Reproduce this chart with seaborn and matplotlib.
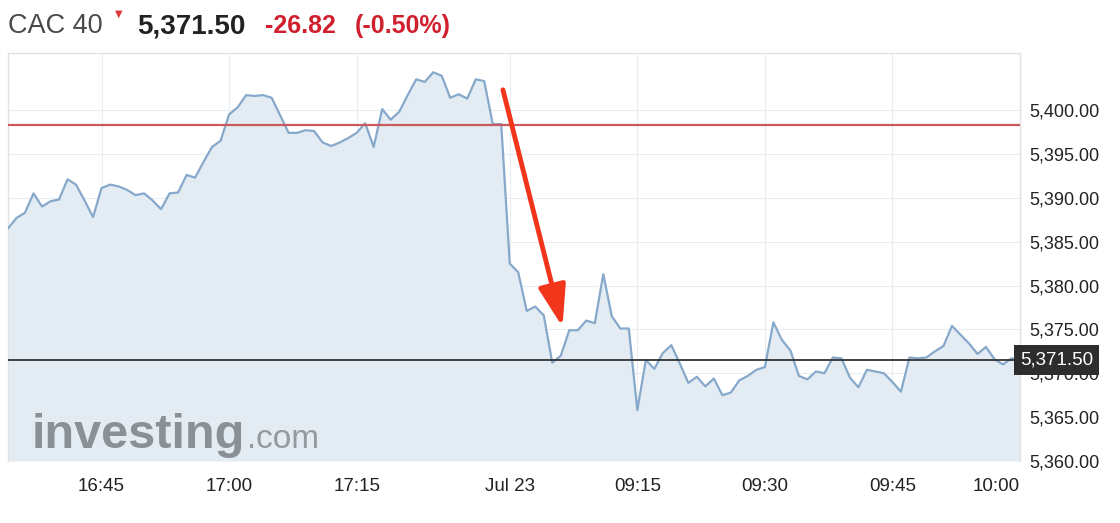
"""CAC 40 intraday chart, investing.com style."""
import matplotlib
matplotlib.use("Agg")
import matplotlib.pyplot as plt
import numpy as np
import pandas as pd
import seaborn as sns

# ---------------------------------------------------------------------------
# Data (1-minute closes)
# ---------------------------------------------------------------------------
prev_day = [
    5386.5, 5387.7, 5388.3, 5390.5, 5389.0, 5389.6, 5389.8, 5392.1, 5391.5, 5389.7,
    5387.8, 5391.1, 5391.5, 5391.3, 5390.9, 5390.3, 5390.5, 5389.7, 5388.7, 5390.5,
    5390.6, 5392.6, 5392.3, 5394.1, 5395.8, 5396.5, 5399.5, 5400.3, 5401.7, 5401.6,
    5401.7, 5401.4, 5399.4, 5397.4, 5397.4, 5397.7, 5397.6, 5396.3, 5395.9, 5396.3,
    5396.8, 5397.4, 5398.5, 5395.8, 5400.1, 5398.9, 5399.8, 5401.7, 5403.5, 5403.2,
    5404.3, 5403.9, 5401.4, 5401.8, 5401.3, 5403.5, 5403.3, 5398.4, 5398.4,
]
jul23 = [
    5382.5, 5381.5, 5377.1, 5377.6, 5376.6, 5371.2, 5372.0, 5374.9, 5374.9, 5376.0,
    5375.7, 5381.3, 5376.5, 5375.1, 5375.1, 5365.8, 5371.5, 5370.5, 5372.3, 5373.2,
    5371.1, 5368.9, 5369.6, 5368.5, 5369.4, 5367.5, 5367.8, 5369.2, 5369.7, 5370.4,
    5370.7, 5375.8, 5373.8, 5372.6, 5369.7, 5369.3, 5370.2, 5370.0, 5371.8, 5371.7,
    5369.5, 5368.4, 5370.4, 5370.2, 5370.0, 5369.0, 5367.9, 5371.8, 5371.7, 5371.8,
    5372.5, 5373.1, 5375.4, 5374.4, 5373.4, 5372.2, 5373.0, 5371.6, 5371.0, 5371.7,
    5371.5,
]
prev_close = 5398.32
last_price = 5371.50
change = -26.82
change_pct = -0.50

x_tick_labels = ["16:45", "17:00", "17:15", "Jul 23", "09:15", "09:30", "09:45", "10:00"]
x_tick_pos = [11, 26, 41, 59, 74, 89, 104, 119]
y_ticks = [5360, 5365, 5370, 5375, 5380, 5385, 5390, 5395, 5400]
y_top = 5406.5

df = pd.DataFrame({"close": prev_day + jul23})
df["i"] = np.arange(len(df))

# ---------------------------------------------------------------------------
# Style
# ---------------------------------------------------------------------------
sns.set_theme(style="white")
plt.rcParams["font.family"] = ["Liberation Sans", "DejaVu Sans"]

LINE = "#86a9cb"
FILL = "#e4ecf3"
RED_LINE = "#c95b5e"
RED_TXT = "#d0202e"

fig = plt.figure(figsize=(11.2, 5.23), dpi=100)
ax = fig.add_axes([8 / 1120, 62 / 523, 1012 / 1120, 408 / 523])

ax.fill_between(df["i"], df["close"], y_ticks[0], color=FILL, zorder=1, lw=0)
sns.lineplot(data=df, x="i", y="close", ax=ax, color=LINE, lw=1.6, zorder=3)

ax.axhline(prev_close, color=RED_LINE, lw=1.6, zorder=4)
ax.axhline(last_price, color="#333333", lw=1.3, zorder=4)

# watermark
ax.text(0.023, 0.032, "investing", transform=ax.transAxes, fontsize=35,
        fontweight="bold", color="#8b9097", va="baseline", zorder=2)
ax.text(0.236, 0.032, ".com", transform=ax.transAxes, fontsize=24,
        color="#959aa0", va="baseline", zorder=2)

# red arrow
ax.annotate("", xy=(65.2, 5375.3), xytext=(58.2, 5402.3),
            arrowprops=dict(arrowstyle="-|>,head_length=0.9,head_width=0.3",
                            color="#f2361c", lw=3.5, mutation_scale=28,
                            shrinkA=0, shrinkB=0),
            zorder=6)

ax.set_xlim(0, len(df) - 1)
ax.set_ylim(y_ticks[0], y_top)
ax.set_xticks(x_tick_pos)
ax.set_xticklabels(x_tick_labels, fontsize=13.5, color="#222222")
ax.get_xticklabels()[-1].set_ha("right")
ax.set_yticks(y_ticks)
ax.set_yticklabels([f"{v:,.2f}" for v in y_ticks], fontsize=13, color="#222222")
ax.yaxis.tick_right()
ax.tick_params(axis="both", length=0)
ax.tick_params(axis="y", pad=7)
ax.tick_params(axis="x", pad=12)
ax.set_xlabel("")
ax.set_ylabel("")

ax.grid(True, color="#e9edf1", lw=0.8, zorder=0)
for side in ["top", "left", "right"]:
    ax.spines[side].set_color("#e2e2e2")
    ax.spines[side].set_linewidth(1)
ax.spines["bottom"].set_visible(False)

# last price box
ax.text(1.0, last_price, f"{last_price:,.2f}", transform=ax.get_yaxis_transform(),
        ha="left", va="center", fontsize=13.5, color="white", zorder=10, clip_on=False,
        bbox=dict(boxstyle="square,pad=0.33", fc="#2d2d2d", ec="none"))

# header
fig.text(8 / 1120, 490 / 523, "CAC 40", fontsize=19.5, color="#4a4a4a", va="baseline")
fig.text(115 / 1120, 509 / 523, "\u25bc", fontsize=7, color="#e0353a", va="center",
         family="DejaVu Sans")
fig.text(137 / 1120, 490 / 523, f"{last_price:,.2f}", fontsize=20, fontweight="bold",
         color="#222222", va="baseline")
fig.text(265 / 1120, 490 / 523, f"{change:.2f}", fontsize=18, fontweight="bold",
         color=RED_TXT, va="baseline")
fig.text(355 / 1120, 490 / 523, f"({change_pct:.2f}%)", fontsize=18, fontweight="bold",
         color=RED_TXT, va="baseline")

fig.savefig("out.png", dpi=100)
